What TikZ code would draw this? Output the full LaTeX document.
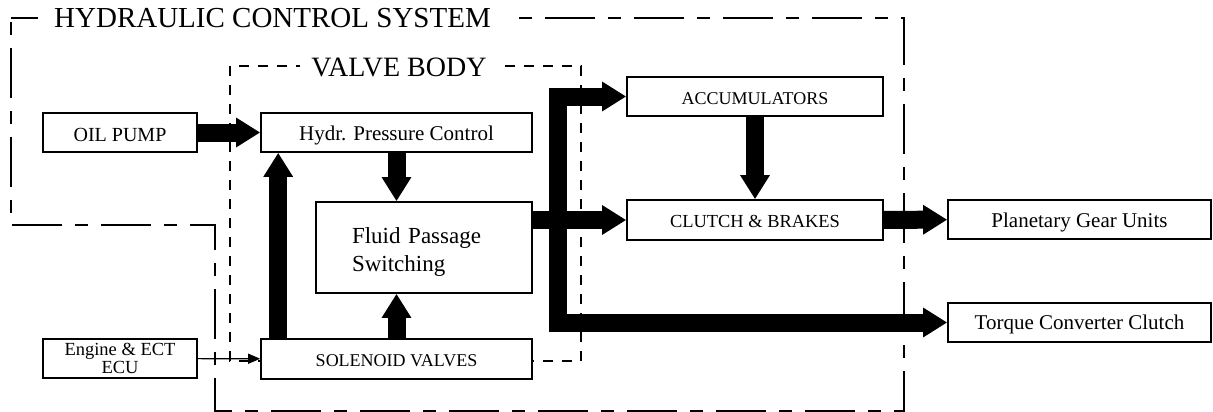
\documentclass[tikz,border=0pt]{standalone}
\usepackage{fontspec}
\setmainfont{Liberation Serif}
\usetikzlibrary{arrows.meta}

\begin{document}
\begin{tikzpicture}[x=1pt,y=-1pt,
    unit/.style={draw,line width=1.6pt,fill=white,inner sep=0pt,align=center,text depth=0pt},
    pipe/.style={line width=18pt,-{Triangle[width=28pt,length=24pt]}},
    bus/.style={line width=18pt,line join=miter,{Triangle[width=28pt,length=24pt]}-{Triangle[width=28pt,length=24pt]}},
    signal/.style={line width=1.2pt,-{Triangle[width=10pt,length=12pt]}},
    outerframe/.style={line width=1.6pt,dash pattern=on 50pt off 13pt on 13pt off 13pt},
    innerframe/.style={line width=1.2pt,dash pattern=on 10pt off 9pt}]
    \useasboundingbox (0,0) rectangle (1213,412);

    % frames
    \draw[outerframe] (11,18) -- (904,18) -- (904,411) -- (215,411) -- (215,225) -- (11,225) -- cycle;
    \draw[innerframe] (230,66) rectangle (581,361);
    \node[fill=white,inner xsep=16pt,inner ysep=2pt,font=\fontsize{29}{30}\selectfont] (hcs) at (272.5,18) {HYDRAULIC CONTROL SYSTEM};
    \node[fill=white,inner xsep=11pt,inner ysep=2pt,font=\fontsize{28}{30}\selectfont] (vb) at (399,67) {VALVE BODY};

    % blocks
    \node[unit,minimum width=154pt,minimum height=39pt,text height=17pt,font=\fontsize{20}{22}\selectfont] (pump) at (120,132.5) {OIL PUMP};
    \node[unit,minimum width=271pt,minimum height=39pt,text height=16.5pt,font=\fontsize{21}{23}\selectfont] (hpc) at (396.5,132.5) {Hydr. Pressure Control};
    \node[unit,minimum width=216pt,minimum height=91pt,text width=144pt,align=left,text height=16pt,text depth=25pt,font=\fontsize{23}{28}\selectfont] (fps) at (424,247.5) {Fluid Passage\\Switching};
    \node[unit,minimum width=271pt,minimum height=40pt,text height=14pt,font=\fontsize{18}{20}\selectfont] (sol) at (396.5,359) {SOLENOID VALVES};
    \node[unit,minimum width=154pt,minimum height=39pt,font=\fontsize{18.5}{18}\selectfont] (ecu) at (120,358.5) {Engine \& ECT\\ECU};
    \node[unit,minimum width=256pt,minimum height=39pt,text height=16pt,font=\fontsize{18}{20}\selectfont] (acc) at (755,96.5) {ACCUMULATORS};
    \node[unit,minimum width=256pt,minimum height=40pt,text height=14pt,font=\fontsize{18.4}{20}\selectfont] (cb) at (755,220) {CLUTCH \& BRAKES};
    \node[unit,minimum width=263pt,minimum height=39pt,text height=15pt,font=\fontsize{21}{23}\selectfont] (pgu) at (1079.5,219.5) {Planetary Gear Units};
    \node[unit,minimum width=263pt,minimum height=39pt,text height=13pt,font=\fontsize{21}{23}\selectfont] (tcc) at (1079.5,322.5) {Torque Converter Clutch};
    \coordinate (split) at (558,220);

    % flows
    \draw[pipe] (pump) -- (hpc);
    \draw[pipe] (hpc.south) -- (hpc.south |- fps.north);
    \draw[pipe] (sol.north) -- (sol.north |- fps.south);
    \draw[pipe] ([xshift=18pt]sol.north west) -- ([xshift=18pt]hpc.south west);
    \draw[pipe] (fps.east |- cb.west) -- (cb.west);
    \draw[bus] (acc.west) -| (split) |- (tcc.west);
    \draw[pipe] (acc) -- (cb);
    \draw[pipe] (cb) -- (pgu);
    \draw[signal] (ecu) -- (sol);
\end{tikzpicture}
\end{document}
